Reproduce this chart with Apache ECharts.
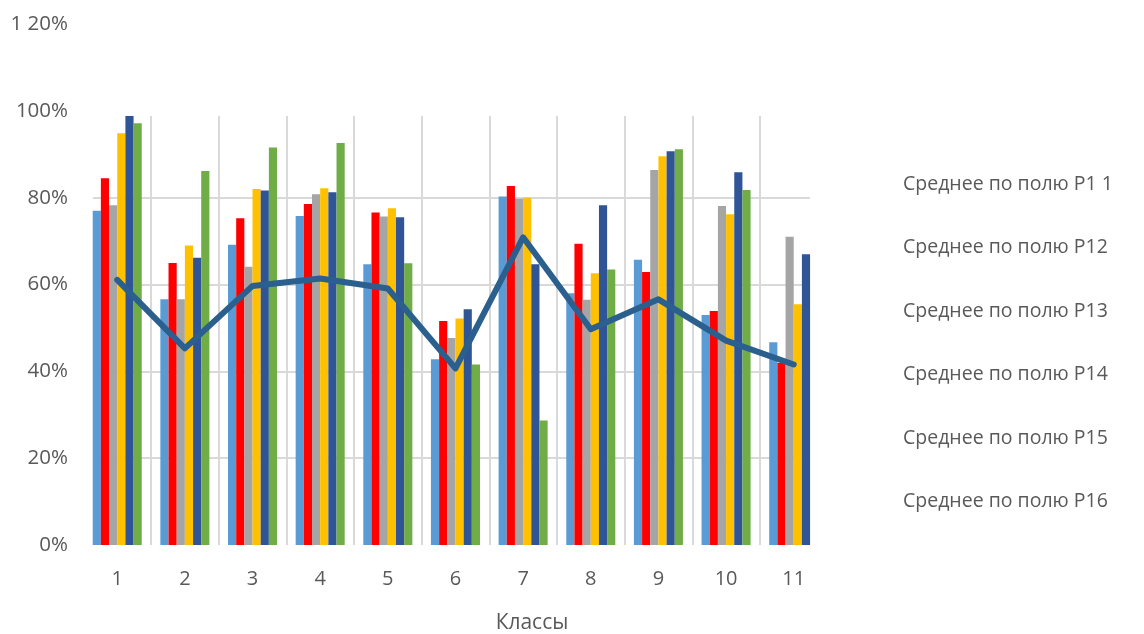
<!DOCTYPE html>
<html>
<head>
<meta charset="utf-8">
<script src="https://cdn.jsdelivr.net/npm/echarts@6/dist/echarts.min.js"></script>
<style>
html,body{margin:0;padding:0;background:#fff;}
#chart{width:1144px;height:634px;}
</style>
</head>
<body>
<div id="chart"></div>
<script>
// ---- data ----
var categories = ['1','2','3','4','5','6','7','8','9','10','11'];
var seriesNames = ['Среднее по полю Р1 1','Среднее по полю Р12','Среднее по полю Р13','Среднее по полю Р14','Среднее по полю Р15','Среднее по полю Р16'];
var p11 = [0.770, 0.566, 0.692, 0.758, 0.647, 0.428, 0.803, 0.580, 0.657, 0.530, 0.467];
var p12 = [0.845, 0.650, 0.753, 0.786, 0.766, 0.516, 0.827, 0.694, 0.629, 0.539, 0.420];
var p13 = [0.783, 0.566, 0.641, 0.808, 0.757, 0.477, 0.798, 0.565, 0.864, 0.781, 0.710];
var p14 = [0.949, 0.690, 0.820, 0.822, 0.776, 0.522, 0.800, 0.626, 0.896, 0.762, 0.555];
var p15 = [0.995, 0.662, 0.817, 0.813, 0.755, 0.543, 0.647, 0.783, 0.907, 0.859, 0.670];
var p16 = [0.972, 0.862, 0.916, 0.926, 0.649, 0.416, 0.287, 0.635, 0.912, 0.818, null];
var lineName = 'Среднее';
var lineValues = [0.611, 0.453, 0.597, 0.614, 0.591, 0.407, 0.709, 0.497, 0.566, 0.471, 0.416];
var yTickLabels = ['0%','20%','40%','60%','80%','100%','1 20%'];
var xTitle = 'Классы';

// ---- layout ----
var colors = ['#5B9BD5','#FF0000','#A5A5A5','#FFC000','#2F5597','#70AD47'];
var PLOT_L = 83.4, BAND = 67.65;
var CLIP_L = 93, CLIP_R = 810, CLIP_T = 116, BASE_Y = 545, PX_PER_UNIT = 434;
var xMin = 1 - ((PLOT_L + 0.5 * BAND) - CLIP_L) / BAND;
var xMax = xMin + (CLIP_R - CLIP_L) / BAND;
var yClipMax = (BASE_Y - CLIP_T) / PX_PER_UNIT;
var FONT = '"Open Sans", Lato, sans-serif';
var TXT = '#595959';

function pairs(arr){ return arr.map(function(v,i){ return [i+1, v]; }); }

var barSeries = [p11,p12,p13,p14,p15,p16].map(function(arr, k){
  return {
    name: seriesNames[k], type: 'bar', xAxisIndex: 1, yAxisIndex: 1,
    data: pairs(arr), barGap: '0%', barCategoryGap: '27.5%',
    itemStyle: {color: colors[k]}, clip: true
  };
});

var chart = echarts.init(document.getElementById('chart'), null, {renderer:'canvas'});
chart.setOption({
  animation: false,
  backgroundColor: '#fff',
  textStyle: {fontFamily: FONT},
  grid: [
    {left: PLOT_L, top: CLIP_T, width: BAND * categories.length, height: BASE_Y - CLIP_T},
    {left: CLIP_L, top: CLIP_T, width: CLIP_R - CLIP_L, height: BASE_Y - CLIP_T},
    {left: CLIP_L, top: BASE_Y - 1.2 * PX_PER_UNIT, width: CLIP_R - CLIP_L, height: 1.2 * PX_PER_UNIT}
  ],
  xAxis: [
    {gridIndex: 0, type: 'category', data: categories, boundaryGap: true,
     axisLine: {show: false}, axisTick: {show: false},
     axisLabel: {color: TXT, fontSize: 20, margin: 24, fontFamily: FONT},
     splitLine: {show: true, showMinLine: false, showMaxLine: false, lineStyle: {color: '#D9D9D9', width: 2}}},
    {gridIndex: 1, type: 'value', min: xMin, max: xMax, show: false},
    {gridIndex: 2, type: 'value', show: false}
  ],
  yAxis: [
    {gridIndex: 0, type: 'value', min: 0, max: 1, show: false},
    {gridIndex: 1, type: 'value', min: 0, max: yClipMax, interval: 0.2,
     axisLine: {show: false}, axisTick: {show: false}, axisLabel: {show: false},
     splitLine: {show: true, showMinLine: false, showMaxLine: false, lineStyle: {color: '#D9D9D9', width: 2}}},
    {gridIndex: 2, type: 'value', min: 0, max: 1.2, interval: 0.2,
     axisLine: {show: false}, axisTick: {show: false}, splitLine: {show: false},
     axisLabel: {color: TXT, fontSize: 20.5, margin: 25, fontFamily: FONT,
       formatter: function(v){ return yTickLabels[Math.round(v / 0.2)]; }}}
  ],
  legend: {
    data: seriesNames, orient: 'vertical', left: 893, top: 169,
    itemWidth: 0, itemHeight: 20, itemGap: 43.5, icon: 'rect', selectedMode: false,
    textStyle: {color: TXT, fontSize: 19.5, fontFamily: FONT}
  },
  graphic: [{
    type: 'text', x: 532, y: 623,
    style: {text: xTitle, fill: TXT, font: '21px ' + FONT, textAlign: 'center', textVerticalAlign: 'middle'}
  }],
  series: barSeries.concat([{
    name: lineName, type: 'line', xAxisIndex: 1, yAxisIndex: 1,
    data: pairs(lineValues), symbol: 'none', clip: true,
    lineStyle: {color: '#2A5F8E', width: 6, cap: 'round', join: 'round'}, z: 5
  }])
});
</script>
</body>
</html>
